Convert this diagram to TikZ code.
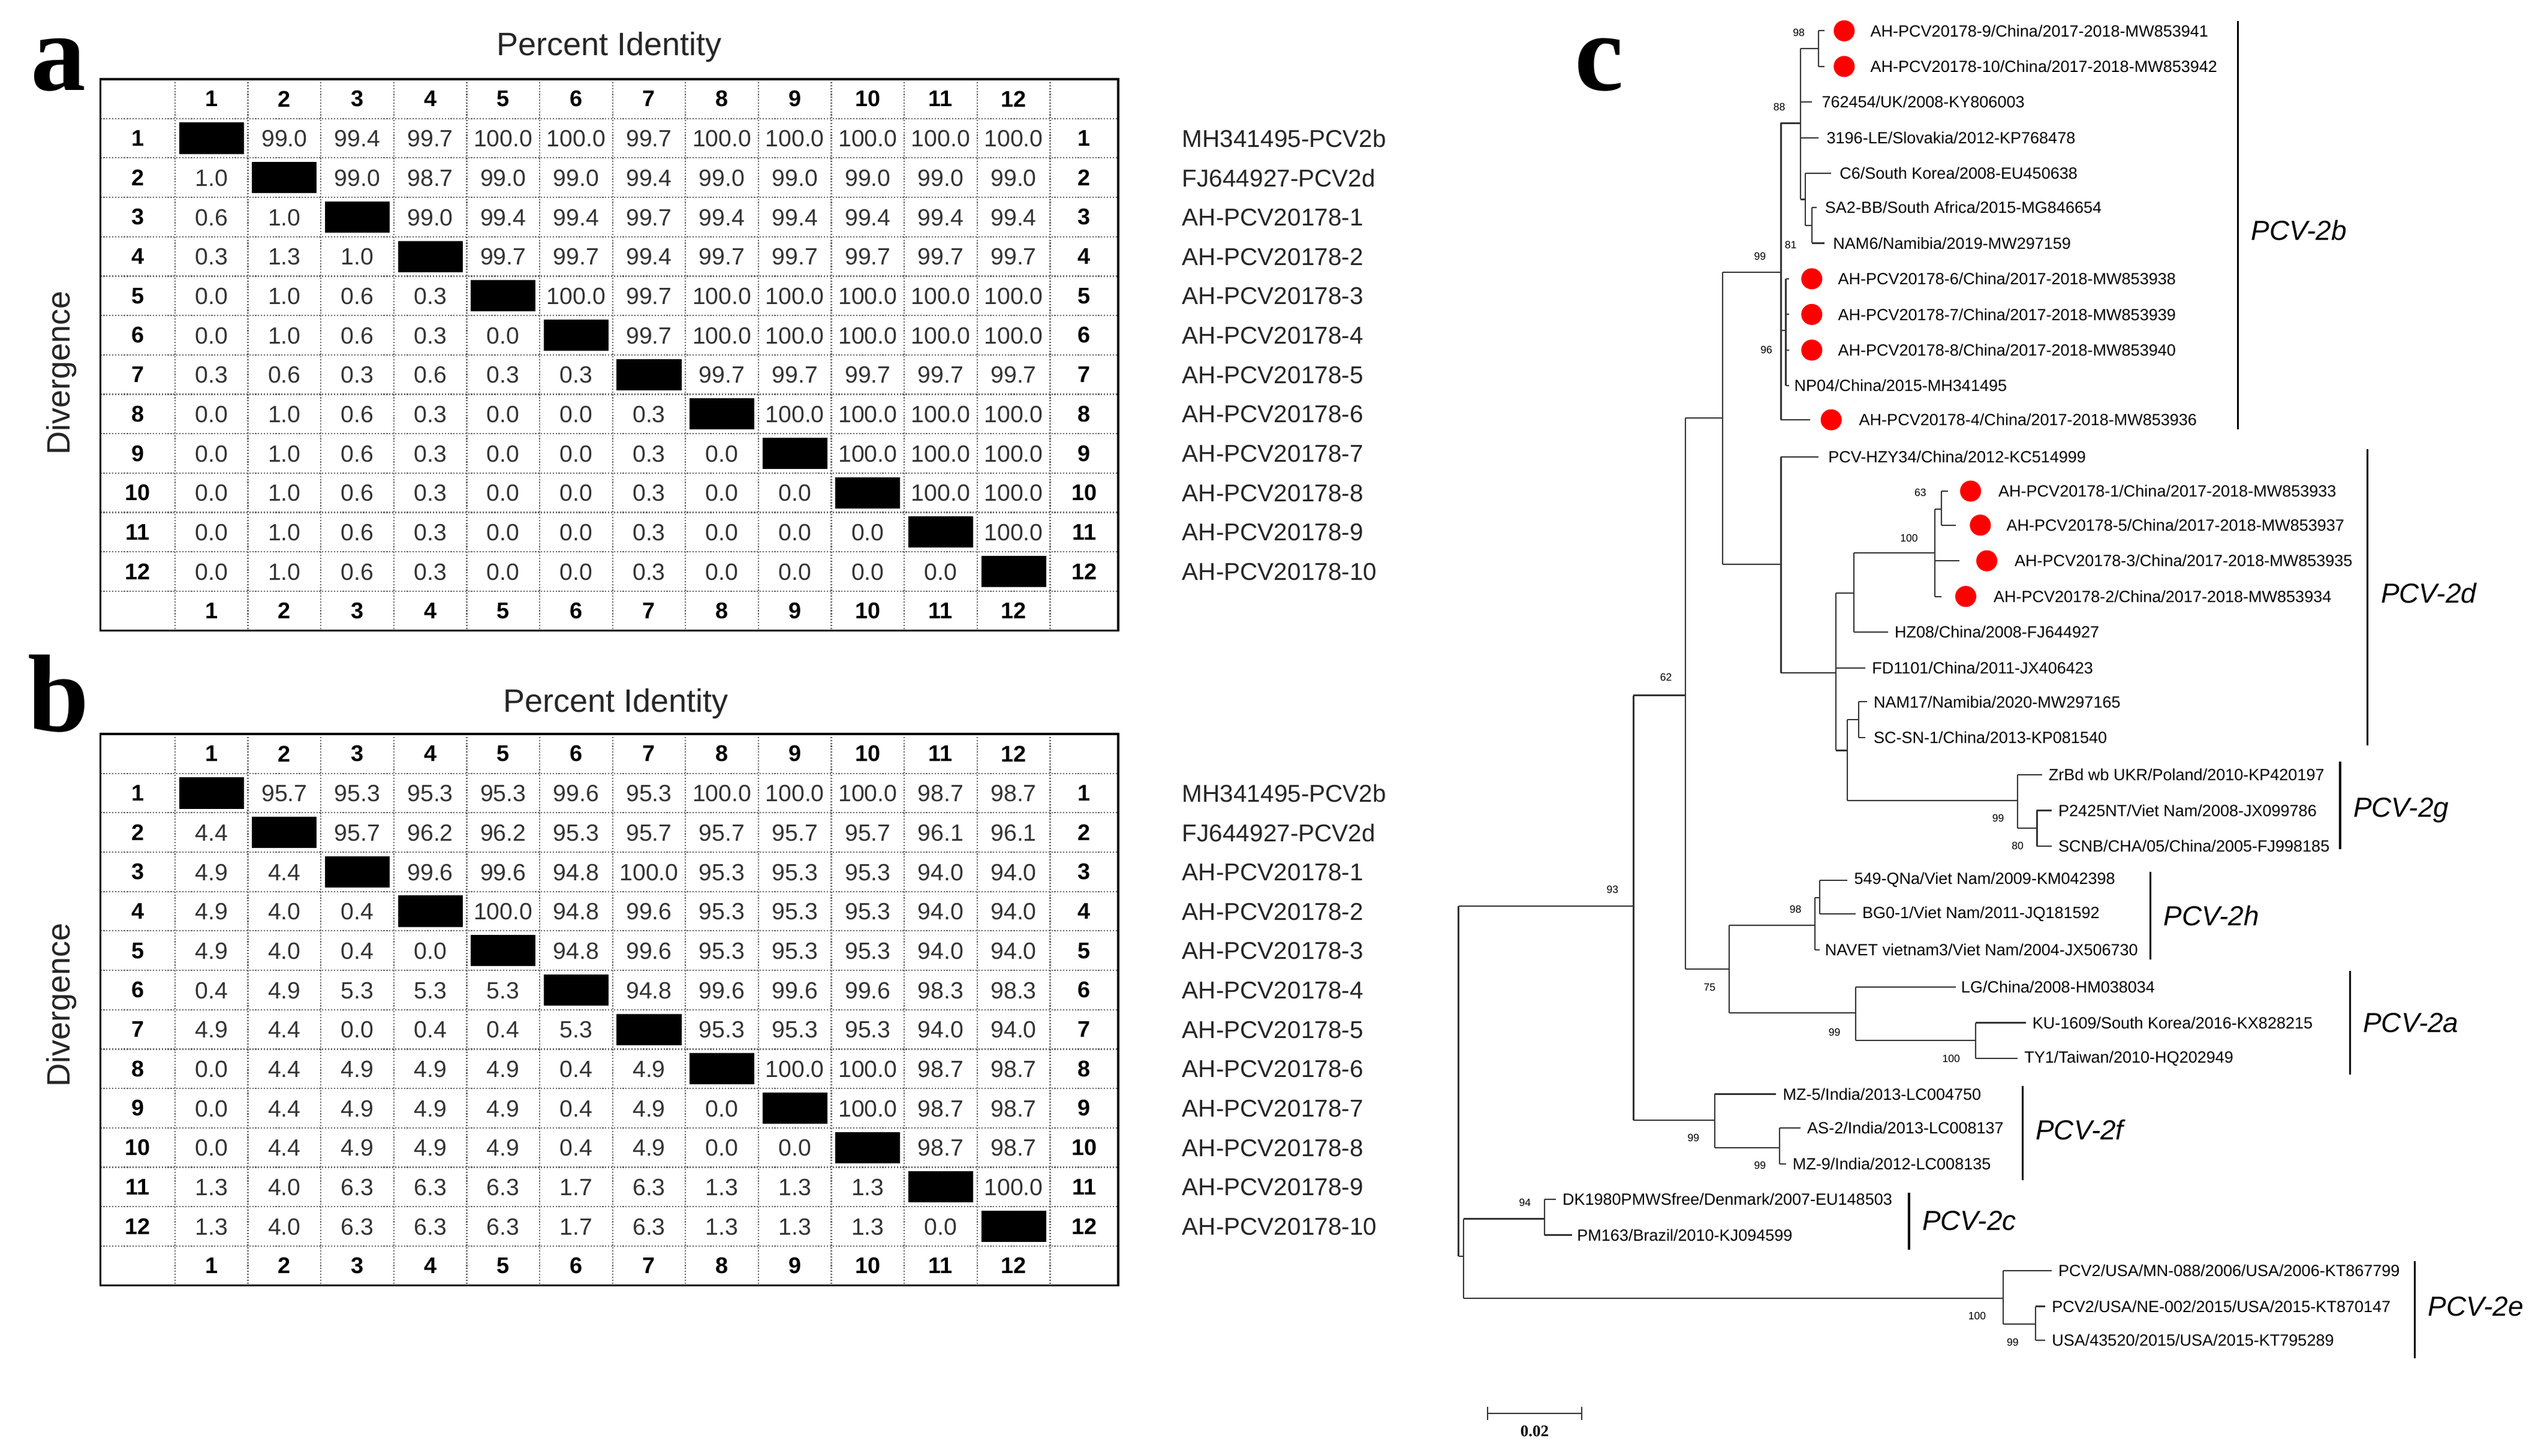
\documentclass[tikz,border=0pt]{standalone}
\usepackage{fontspec}
\setmainfont{Liberation Sans}
\newfontfamily\serifb{Liberation Serif}
\begin{document}
\begin{tikzpicture}[x=1pt,y=-1pt,
  cellnum/.style={font=\fontsize{14.5}{15}\selectfont, text=black!80},
  hdr/.style={font=\fontsize{14}{15}\selectfont\bfseries},
  seqname/.style={anchor=west,font=\fontsize{15}{16}\selectfont, text=black!85},
  ttl/.style={font=\fontsize{20}{22}\selectfont, text=black!85},
  panel/.style={font=\serifb\fontsize{68}{70}\selectfont\bfseries},
  leaf/.style={anchor=west,font=\fontsize{10}{11}\selectfont, inner sep=0pt},
  boot/.style={font=\fontsize{6.5}{7}\selectfont, inner sep=0pt},
  clade/.style={anchor=west,font=\fontsize{17}{18}\selectfont\itshape, inner sep=0pt},
  br/.style={line width=0.8pt, black!80},
  bar/.style={line width=1.2pt},
  dot/.style={circle, fill=red, inner sep=0pt, minimum size=13pt}]
\useasboundingbox (0,0) rectangle (1568,898);

\newcommand\pctable[3]{%
  \foreach \k in {1,...,13} \draw[densely dotted, black!60, line width=0.8pt] (62,{#1+24.3*\k}) -- (690,{#1+24.3*\k});
  \foreach \k in {0,...,12} \draw[densely dotted, black!60, line width=0.8pt] ({108+45*\k},#1) -- ({108+45*\k},{#1+14*24.3});
  \draw[line width=1.3pt] (62,#1) rectangle (690,{#1+14*24.3});
  \foreach \j in {1,...,12} {
    \node[hdr] (#3h\j) at ({85.5+45*\j},{#1+12.15}) {\j};
    \node[hdr] (#3f\j) at ({85.5+45*\j},{#1+13*24.3+12.15}) {\j};
    \node[hdr] (#3l\j) at (85,{#1+24.3*\j+12.15}) {\j};
    \node[hdr] (#3r\j) at (669,{#1+24.3*\j+12.15}) {\j};
  }
  \foreach \row [count=\i] in {#2} {
    \foreach \v [count=\j] in \row {
      \ifnum\i=\j
        \fill ({108+45*(\j-1)+2.5},{#1+24.3*\i+2.5}) rectangle ({108+45*\j-2.5},{#1+24.3*(\i+1)-2.5});
      \else
        \node[cellnum] at ({85.5+45*\j},{#1+24.3*\i+12.4}) {\v};
      \fi
    }
  }
  \foreach \n [count=\i] in {MH341495-PCV2b,FJ644927-PCV2d,AH-PCV20178-1,AH-PCV20178-2,AH-PCV20178-3,AH-PCV20178-4,AH-PCV20178-5,AH-PCV20178-6,AH-PCV20178-7,AH-PCV20178-8,AH-PCV20178-9,AH-PCV20178-10}
    \node[seqname] (#3n\i) at (726,{#1+24.3*\i+12.4}) {\n};
}
\newcommand\leafnode[4]{\node[leaf] (#1) at (#2,#3) {#4};}

% ---------- panel a ----------
\node[panel] (pa) at (36,40) {a};
\node[ttl] (ta) at (376,29) {Percent Identity};
\node[ttl, rotate=90] (da) at (38,230) {Divergence};
\pctable{48.85}{
{X,99.0,99.4,99.7,100.0,100.0,99.7,100.0,100.0,100.0,100.0,100.0},
{1.0,X,99.0,98.7,99.0,99.0,99.4,99.0,99.0,99.0,99.0,99.0},
{0.6,1.0,X,99.0,99.4,99.4,99.7,99.4,99.4,99.4,99.4,99.4},
{0.3,1.3,1.0,X,99.7,99.7,99.4,99.7,99.7,99.7,99.7,99.7},
{0.0,1.0,0.6,0.3,X,100.0,99.7,100.0,100.0,100.0,100.0,100.0},
{0.0,1.0,0.6,0.3,0.0,X,99.7,100.0,100.0,100.0,100.0,100.0},
{0.3,0.6,0.3,0.6,0.3,0.3,X,99.7,99.7,99.7,99.7,99.7},
{0.0,1.0,0.6,0.3,0.0,0.0,0.3,X,100.0,100.0,100.0,100.0},
{0.0,1.0,0.6,0.3,0.0,0.0,0.3,0.0,X,100.0,100.0,100.0},
{0.0,1.0,0.6,0.3,0.0,0.0,0.3,0.0,0.0,X,100.0,100.0},
{0.0,1.0,0.6,0.3,0.0,0.0,0.3,0.0,0.0,0.0,X,100.0},
{0.0,1.0,0.6,0.3,0.0,0.0,0.3,0.0,0.0,0.0,0.0,X}}{a}

% ---------- panel b ----------
\node[panel] (pb) at (36,428) {b};
\node[ttl] (tb) at (380,434) {Percent Identity};
\node[ttl, rotate=90] (db) at (38,620) {Divergence};
\pctable{452.85}{
{X,95.7,95.3,95.3,95.3,99.6,95.3,100.0,100.0,100.0,98.7,98.7},
{4.4,X,95.7,96.2,96.2,95.3,95.7,95.7,95.7,95.7,96.1,96.1},
{4.9,4.4,X,99.6,99.6,94.8,100.0,95.3,95.3,95.3,94.0,94.0},
{4.9,4.0,0.4,X,100.0,94.8,99.6,95.3,95.3,95.3,94.0,94.0},
{4.9,4.0,0.4,0.0,X,94.8,99.6,95.3,95.3,95.3,94.0,94.0},
{0.4,4.9,5.3,5.3,5.3,X,94.8,99.6,99.6,99.6,98.3,98.3},
{4.9,4.4,0.0,0.4,0.4,5.3,X,95.3,95.3,95.3,94.0,94.0},
{0.0,4.4,4.9,4.9,4.9,0.4,4.9,X,100.0,100.0,98.7,98.7},
{0.0,4.4,4.9,4.9,4.9,0.4,4.9,0.0,X,100.0,98.7,98.7},
{0.0,4.4,4.9,4.9,4.9,0.4,4.9,0.0,0.0,X,98.7,98.7},
{1.3,4.0,6.3,6.3,6.3,1.7,6.3,1.3,1.3,1.3,X,100.0},
{1.3,4.0,6.3,6.3,6.3,1.7,6.3,1.3,1.3,1.3,0.0,X}}{b}

% ---------- panel c : tree ----------
\node[panel] (pc) at (987,40) {c};

\draw[br] (1122,19)--(1122,41) (1122,19)--(1126,19) (1122,41)--(1126,41);
\draw[br] (1111,30)--(1111,123) (1111,30)--(1122,30) (1111,63)--(1118,63) (1111,85)--(1122,85) (1111,123)--(1114,123);
\draw[br] (1114,107)--(1114,139) (1114,107)--(1130,107) (1114,139)--(1118,139);
\draw[br] (1118,128)--(1118,150) (1118,128)--(1121,128) (1118,150)--(1126,150);
\draw[br] (1099,76)--(1099,259) (1099,76)--(1111,76) (1099,204)--(1102,204) (1099,259)--(1117,259);
\draw[br] (1102,172)--(1102,238) \foreach \yy in {172,194,216,238} {(1102,\yy)--(1104,\yy)};
\draw[br] (1063,168)--(1063,348) (1063,168)--(1099,168) (1063,348)--(1099,348);
\draw[br] (1099,282)--(1099,415) (1099,282)--(1122,282) (1099,415)--(1133,415);
\draw[br] (1133,366)--(1133,463) (1133,366)--(1144,366) (1133,412)--(1151,412) (1133,463)--(1140,463);
\draw[br] (1144,341)--(1144,390) (1144,341)--(1194,341) (1144,390)--(1165,390);
\draw[br] (1194,314)--(1194,368) (1194,314)--(1198,314) (1194,346)--(1209,346) (1194,368)--(1198,368);
\draw[br] (1198,303)--(1198,324) (1198,303)--(1202,303) (1198,324)--(1207,324);
\draw[br] (1140,444)--(1140,494) (1140,444)--(1147,444) (1140,494)--(1245,494);
\draw[br] (1147,433)--(1147,455) (1147,433)--(1152,433) (1147,455)--(1151,455);
\draw[br] (1245,478)--(1245,511) (1245,478)--(1260,478) (1245,511)--(1257,511);
\draw[br] (1257,500)--(1257,522) (1257,500)--(1266,500) (1257,522)--(1266,522);
\draw[br] (1040,258)--(1040,598) (1040,258)--(1063,258) (1040,598)--(1067,598);
\draw[br] (1067,571)--(1067,625) (1067,571)--(1120,571) (1067,625)--(1145,625);
\draw[br] (1120,554)--(1120,586) (1120,554)--(1123,554) (1120,586)--(1123,586);
\draw[br] (1123,543)--(1123,564) (1123,543)--(1140,543) (1123,564)--(1145,564);
\draw[br] (1145,609)--(1145,642) (1145,609)--(1207,609) (1145,642)--(1219,642);
\draw[br] (1219,631)--(1219,653) (1219,631)--(1250,631) (1219,653)--(1245,653);
\draw[br] (1008,429)--(1008,691) (1008,429)--(1040,429) (1008,691)--(1058,691);
\draw[br] (1058,675)--(1058,708) (1058,675)--(1096,675) (1058,708)--(1098,708);
\draw[br] (1098,696)--(1098,718) (1098,696)--(1111,696) (1098,718)--(1102,718);
\draw[br] (900,559)--(900,775) (900,559)--(1008,559) (900,775)--(903,775);
\draw[br] (903,752)--(903,801) (903,752)--(953,752) (903,801)--(1236,801);
\draw[br] (953,740)--(953,762) (953,740)--(960,740) (953,762)--(970,762);
\draw[br] (1236,784)--(1236,817) (1236,784)--(1266,784) (1236,817)--(1256,817);
\draw[br] (1256,806)--(1256,827) (1256,806)--(1262,806) (1256,827)--(1262,827);

\foreach \nm/\xx/\yy in {d9/1138/19,d10/1138/41,d6/1118/172,d7/1118/194,d8/1118/216,d4/1130/259,d1/1216/303,d5/1222/324,d3/1226/346,d2/1213/368}
  \node[dot] (\nm) at (\xx,\yy) {};

\leafnode{l1}{1154}{19}{AH-PCV20178-9/China/2017-2018-MW853941}
\leafnode{l2}{1154}{41}{AH-PCV20178-10/China/2017-2018-MW853942}
\leafnode{l3}{1124}{63}{762454/UK/2008-KY806003}
\leafnode{l4}{1127}{85}{3196-LE/Slovakia/2012-KP768478}
\leafnode{l5}{1135}{107}{C6/South Korea/2008-EU450638}
\leafnode{l6}{1126}{128}{SA2-BB/South Africa/2015-MG846654}
\leafnode{l7}{1131}{150}{NAM6/Namibia/2019-MW297159}
\leafnode{l8}{1134}{172}{AH-PCV20178-6/China/2017-2018-MW853938}
\leafnode{l9}{1134}{194}{AH-PCV20178-7/China/2017-2018-MW853939}
\leafnode{l10}{1134}{216}{AH-PCV20178-8/China/2017-2018-MW853940}
\leafnode{l11}{1107}{238}{NP04/China/2015-MH341495}
\leafnode{l12}{1147}{259}{AH-PCV20178-4/China/2017-2018-MW853936}
\leafnode{l13}{1128}{282}{PCV-HZY34/China/2012-KC514999}
\leafnode{l14}{1233}{303}{AH-PCV20178-1/China/2017-2018-MW853933}
\leafnode{l15}{1238}{324}{AH-PCV20178-5/China/2017-2018-MW853937}
\leafnode{l16}{1243}{346}{AH-PCV20178-3/China/2017-2018-MW853935}
\leafnode{l17}{1230}{368}{AH-PCV20178-2/China/2017-2018-MW853934}
\leafnode{l18}{1169}{390}{HZ08/China/2008-FJ644927}
\leafnode{l19}{1155}{412}{FD1101/China/2011-JX406423}
\leafnode{l20}{1156}{433}{NAM17/Namibia/2020-MW297165}
\leafnode{l21}{1156}{455}{SC-SN-1/China/2013-KP081540}
\leafnode{l22}{1264}{478}{ZrBd wb UKR/Poland/2010-KP420197}
\leafnode{l23}{1270}{500}{P2425NT/Viet Nam/2008-JX099786}
\leafnode{l24}{1270}{522}{SCNB/CHA/05/China/2005-FJ998185}
\leafnode{l25}{1144}{543}{549-QNa/Viet Nam/2009-KM042398}
\leafnode{l26}{1149}{564}{BG0-1/Viet Nam/2011-JQ181592}
\leafnode{l27}{1126}{586}{NAVET vietnam3/Viet Nam/2004-JX506730}
\leafnode{l28}{1210}{609}{LG/China/2008-HM038034}
\leafnode{l29}{1254}{631}{KU-1609/South Korea/2016-KX828215}
\leafnode{l30}{1249}{653}{TY1/Taiwan/2010-HQ202949}
\leafnode{l31}{1100}{675}{MZ-5/India/2013-LC004750}
\leafnode{l32}{1115}{696}{AS-2/India/2013-LC008137}
\leafnode{l33}{1106}{718}{MZ-9/India/2012-LC008135}
\leafnode{l34}{964}{740}{DK1980PMWSfree/Denmark/2007-EU148503}
\leafnode{l35}{973}{762}{PM163/Brazil/2010-KJ094599}
\leafnode{l36}{1270}{784}{PCV2/USA/MN-088/2006/USA/2006-KT867799}
\leafnode{l37}{1266}{806}{PCV2/USA/NE-002/2015/USA/2015-KT870147}
\leafnode{l38}{1266}{827}{USA/43520/2015/USA/2015-KT795289}

\foreach \nm/\xx/\yy/\t in {b1/1110/20/98,b2/1098/66/88,b3/1105/151/81,b4/1086/158/99,b5/1090/216/96,
 b6/1185/304/63,b7/1178/332/100,b8/1233/505/99,b9/1245/522/80,b10/1028/418/62,b11/1055/609/75,
 b12/1108/561/98,b13/1132/637/99,b14/1204/653/100,b15/995/549/93,b16/1045/702/99,b17/1086/719/99,
 b18/941/742/94,b19/1220/812/100,b20/1242/828/99}
  \node[boot] (\nm) at (\xx,\yy) {\t};

\foreach \nm/\xx/\ya/\yb/\ly/\t in {c2b/1381/13/265/142/PCV-2b, c2d/1461/277/460/366/PCV-2d,
 c2g/1444/470/524/500/PCV-2g, c2h/1327/538/592/565/PCV-2h, c2a/1450/599/663/631/PCV-2a,
 c2f/1248/670/728/697/PCV-2f, c2c/1178/736/771/753/PCV-2c, c2e/1490/778/838/806/PCV-2e} {
  \draw[bar] (\xx,\ya) -- (\xx,\yb);
  \node[clade] (\nm) at (\xx+8,\ly) {\t};
}

\coordinate (s1) at (918,872);
\coordinate (s2) at (976,872);
\draw[br] (s1) -- (s2) (918,868)--(918,876) (976,868)--(976,876);
\node[font=\serifb\fontsize{10}{11}\selectfont\bfseries] (sl) at (947,883) {0.02};
\end{tikzpicture}
\end{document}
